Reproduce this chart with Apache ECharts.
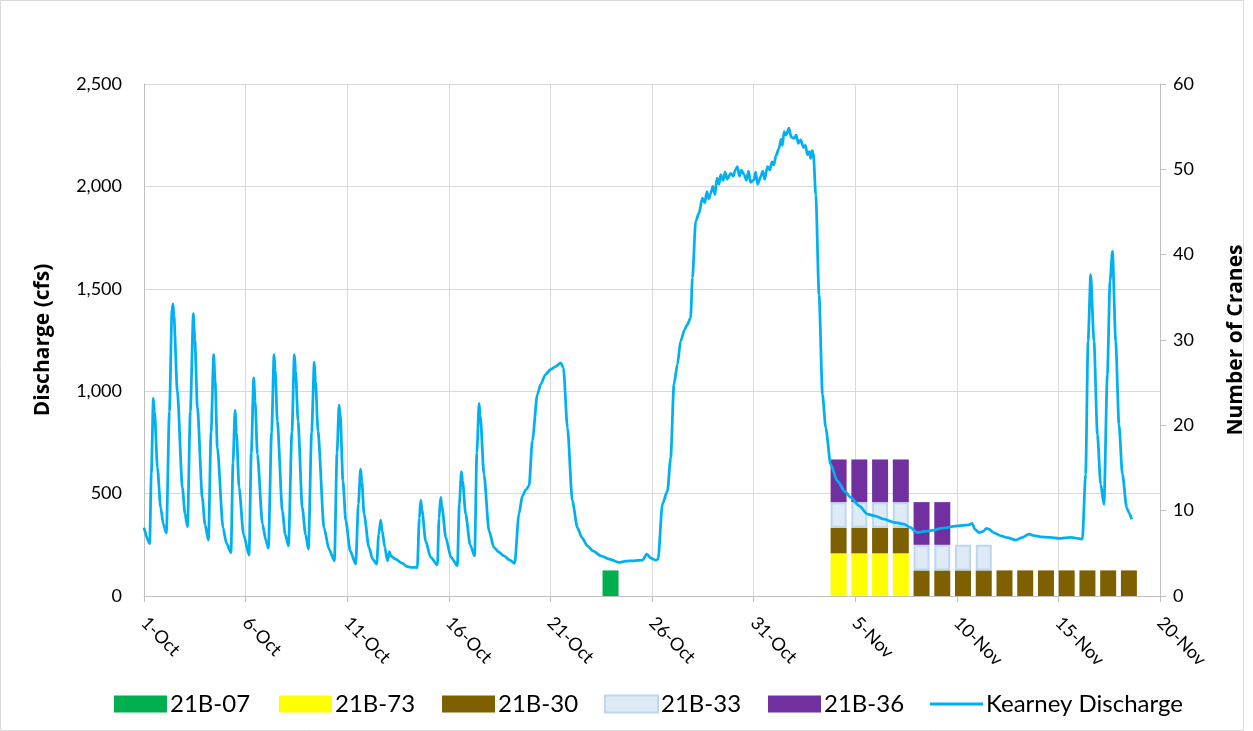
<!DOCTYPE html>
<html>
<head>
<meta charset="utf-8">
<script src="https://cdn.jsdelivr.net/npm/echarts@6/dist/echarts.min.js"></script>
<style>
  html, body { margin: 0; padding: 0; background: #fff; }
  #chart { width: 1253px; height: 731px; }
</style>
</head>
<body>
<div id="chart"></div>
<script>
// x tick labels (every 5 days starting 1-Oct)
const xTickLabels = ['1-Oct','6-Oct','11-Oct','16-Oct','21-Oct','26-Oct','31-Oct','5-Nov','10-Nov','15-Nov','20-Nov'];

// Crane counts: days since 1-Oct (0 = 1-Oct)
const craneDays = [23, 34, 35, 36, 37, 38, 39, 40, 41, 42, 43, 44, 45, 46, 47, 48];
const cranes21B07 = [3, null, null, null, null, null, null, null, null, null, null, null, null, null, null, null];
const cranes21B73 = [null, 5, 5, 5, 5, null, null, null, null, null, null, null, null, null, null, null];
const cranes21B30 = [null, 3, 3, 3, 3, 3, 3, 3, 3, 3, 3, 3, 3, 3, 3, 3];
const cranes21B33 = [null, 3, 3, 3, 3, 3, 3, 3, 3, null, null, null, null, null, null, null];
const cranes21B36 = [null, 5, 5, 5, 5, 5, 5, null, null, null, null, null, null, null, null, null];

// Kearney discharge trace: [days since 1-Oct, cfs]
const kearneyDischarge = [
  [0.00,334],[0.28,256],[0.36,600],[0.46,965],[0.52,900],[0.66,627],[0.82,432],[0.95,350],[1.10,307],
  [1.25,900],[1.38,1400],[1.43,1426],[1.47,1370],[1.64,1000],[1.89,529],[2.02,400],[2.14,339],
  [2.28,900],[2.43,1379],[2.50,1250],[2.63,919],[2.87,480],[3.00,350],[3.17,273],
  [3.30,800],[3.43,1179],[3.50,1050],[3.61,724],[3.89,334],[4.05,260],[4.28,212],
  [4.38,650],[4.48,906],[4.55,800],[4.68,529],[4.90,300],[5.17,200],
  [5.28,700],[5.40,1065],[5.47,950],[5.58,692],[5.83,351],[6.00,270],[6.12,234],
  [6.28,800],[6.40,1179],[6.46,1100],[6.56,854],[6.81,416],[6.95,300],[7.11,245],
  [7.28,800],[7.40,1179],[7.46,1100],[7.58,854],[7.79,432],[7.95,300],[8.09,229],
  [8.25,800],[8.38,1142],[8.44,1050],[8.56,806],[8.86,334],[9.10,230],[9.37,172],
  [9.50,700],[9.60,932],[9.66,880],[9.79,562],[9.93,367],[10.15,220],[10.42,156],
  [10.55,450],[10.66,619],[10.72,560],[10.83,400],[11.07,237],[11.25,180],[11.45,156],
  [11.55,300],[11.65,370],[11.72,320],[11.85,237],[11.98,172],[12.08,217],[12.15,195],[12.39,180],[12.70,160],[12.96,143],[13.20,140],[13.45,139],
  [13.55,380],[13.62,468],[13.68,420],[13.86,269],[14.10,190],[14.44,152],
  [14.52,380],[14.60,481],[14.66,440],[14.85,286],[15.10,190],[15.42,148],
  [15.52,450],[15.62,607],[15.68,560],[15.83,400],[16.05,250],[16.27,196],
  [16.38,700],[16.49,940],[16.55,880],[16.73,594],[16.98,318],[17.22,237],[17.45,215],[17.72,196],[18.00,175],[18.24,159],
  [18.45,400],[18.62,489],[18.80,520],[18.95,538],[19.11,757],[19.36,984],[19.52,1033],[19.75,1080],[20.01,1106],[20.25,1120],[20.51,1138],[20.64,1114],
  [20.84,822],[21.08,464],[21.33,334],[21.55,285],[21.82,245],[22.10,220],[22.48,196],[22.90,180],[23.38,164],[23.70,170],[24.11,172],[24.53,175],[24.74,205],[24.95,185],[25.18,175],[25.30,180],
  [25.51,448],[25.76,513],[25.92,675],[26.08,1033],[26.25,1131],[26.41,1244],[26.60,1300],[26.74,1326],[26.90,1358],[26.99,1553],[27.15,1829],[27.31,1869],[27.48,1943],
  [27.60,1920],[27.70,1975],[27.80,1940],[27.89,1967],[28.00,2000],[28.10,1960],[28.20,2040],[28.30,2010],[28.38,2057],[28.50,2030],[28.60,2070],[28.70,2035],[28.87,2064],
  [29.00,2050],[29.10,2080],[29.20,2097],[29.30,2050],[29.40,2080],[29.53,2057],[29.65,2030],[29.75,2075],[29.85,2020],[30.02,2032],[30.10,2070],[30.20,2010],[30.35,2048],
  [30.45,2075],[30.55,2035],[30.68,2097],[30.80,2080],[30.90,2120],[31.00,2105],[31.10,2150],[31.25,2186],[31.35,2230],[31.42,2200],[31.50,2268],[31.60,2250],[31.74,2284],
  [31.85,2240],[31.99,2235],[32.10,2250],[32.20,2210],[32.32,2227],[32.45,2190],[32.55,2200],[32.65,2154],[32.75,2170],[32.81,2137],[32.88,2175],[32.94,2162],
  [33.06,1959],[33.22,1472],[33.39,984],[33.55,822],[33.79,643],[34.12,562],[34.50,510],[34.78,481],[35.20,440],[35.60,400],[36.00,390],[36.42,375],[36.90,360],[37.40,351],
  [37.70,335],[38.06,310],[38.40,315],[38.88,322],[39.20,330],[39.54,334],[39.80,340],[40.03,343],[40.30,345],[40.60,347],[40.75,355],[40.90,325],[41.09,310],[41.30,315],
  [41.45,330],[41.59,326],[41.80,310],[42.16,294],[42.50,285],[42.90,273],[43.20,285],[43.55,302],[43.80,295],[44.13,289],[44.60,286],[45.03,281],[45.60,286],[46.18,278],
  [46.34,595],[46.46,1244],[46.59,1569],[46.75,1244],[46.92,789],[47.08,546],[47.24,448],[47.41,1082],[47.54,1537],[47.66,1683],[47.82,1244],[47.98,838],[48.15,595],
  [48.36,432],[48.47,407],[48.61,375]
];

// Hidden category axis for the daily crane bars (day slots, days since 1-Oct)
const barAxisDays = Array.from({ length: 49 }, (_, i) => String(i + 1));

const FONT = 'Lato';
const chart = echarts.init(document.getElementById('chart'), null, { renderer: 'canvas' });

function barSeries(name, values, color, extra) {
  return Object.assign({
    name: name,
    type: 'bar',
    stack: 'cranes',
    xAxisIndex: 1,
    yAxisIndex: 1,
    barWidth: 16,
    itemStyle: { color: color },
    data: craneDays.map((d, i) => [String(d), values[i]])
  }, extra || {});
}

function legendAt(name, left, extra) {
  return Object.assign({
    data: [name], left: left, top: 692, padding: 0,
    icon: 'rect', itemWidth: 53, itemHeight: 17,
    textStyle: { fontFamily: FONT, fontSize: 24, color: '#000', padding: [0, 0, 0, -2] }
  }, extra || {});
}

chart.setOption({
  animation: false,
  backgroundColor: '#fff',
  grid: { left: 144, right: 93, top: 84, bottom: 135, containLabel: false, outerBoundsMode: 'none' },
  graphic: [{
    type: 'rect', silent: true, z: -10,
    shape: { x: 0.5, y: 0.5, width: 1243, height: 730 },
    style: { fill: 'none', stroke: '#D9D9D9', lineWidth: 1 }
  }],
  legend: [
    legendAt('21B-07', 114),
    legendAt('21B-73', 279),
    legendAt('21B-30', 442),
    legendAt('21B-33', 604),
    legendAt('21B-36', 768),
    legendAt('Kearney Discharge', 930, { itemHeight: 3 })
  ],
  xAxis: [
    {
      type: 'value', min: 0, max: 50, interval: 5,
      axisLine: { show: true, lineStyle: { color: '#BFBFBF', width: 1 } },
      axisTick: { show: true, length: 6, lineStyle: { color: '#BFBFBF' } },
      splitLine: { show: true, lineStyle: { color: '#D9D9D9', width: 1 } },
      axisLabel: {
        rotate: -45, margin: 24,
        fontFamily: FONT, fontSize: 18, color: '#000',
        formatter: v => xTickLabels[Math.round(v / 5)]
      }
    },
    {
      type: 'category', data: barAxisDays, boundaryGap: true, show: false
    }
  ],
  yAxis: [
    {
      type: 'value', min: 0, max: 2500, interval: 500,
      name: 'Discharge (cfs)', nameLocation: 'middle', nameGap: 90,
      nameTextStyle: { fontFamily: 'Open Sans', fontSize: 21, fontWeight: 'bold', color: '#000' },
      axisLine: { show: true, lineStyle: { color: '#BFBFBF' } },
      axisTick: { show: false },
      splitLine: { show: true, lineStyle: { color: '#D9D9D9', width: 1 } },
      axisLabel: {
        margin: 22, fontFamily: FONT, fontSize: 18, color: '#000',
        formatter: v => v.toLocaleString('en-US')
      }
    },
    {
      type: 'value', min: 0, max: 60, interval: 10, position: 'right',
      name: 'Number of Cranes', nameLocation: 'middle', nameGap: 66, nameRotate: 90,
      nameTextStyle: { fontFamily: 'Open Sans', fontSize: 21, fontWeight: 'bold', color: '#000' },
      axisLine: { show: true, lineStyle: { color: '#BFBFBF' } },
      axisTick: { show: true, length: 6, lineStyle: { color: '#BFBFBF' } },
      splitLine: { show: false },
      axisLabel: { margin: 13, fontFamily: FONT, fontSize: 18, color: '#000' }
    }
  ],
  series: [
    barSeries('21B-07', cranes21B07, '#00B050'),
    barSeries('21B-73', cranes21B73, '#FFFF00'),
    barSeries('21B-30', cranes21B30, '#7F6000'),
    barSeries('21B-33', cranes21B33, '#DEEBF7', { itemStyle: { color: '#DEEBF7', borderColor: '#BDD7EE', borderWidth: 2 } }),
    barSeries('21B-36', cranes21B36, '#7030A0'),
    {
      name: 'Kearney Discharge',
      type: 'line',
      xAxisIndex: 0,
      yAxisIndex: 0,
      showSymbol: false,
      symbol: 'none',
      smooth: 0.25,
      smoothMonotone: 'x',
      z: 5,
      lineStyle: { color: '#00B0F0', width: 2.75 },
      itemStyle: { color: '#00B0F0' },
      data: kearneyDischarge
    }
  ]
});
</script>
</body>
</html>
